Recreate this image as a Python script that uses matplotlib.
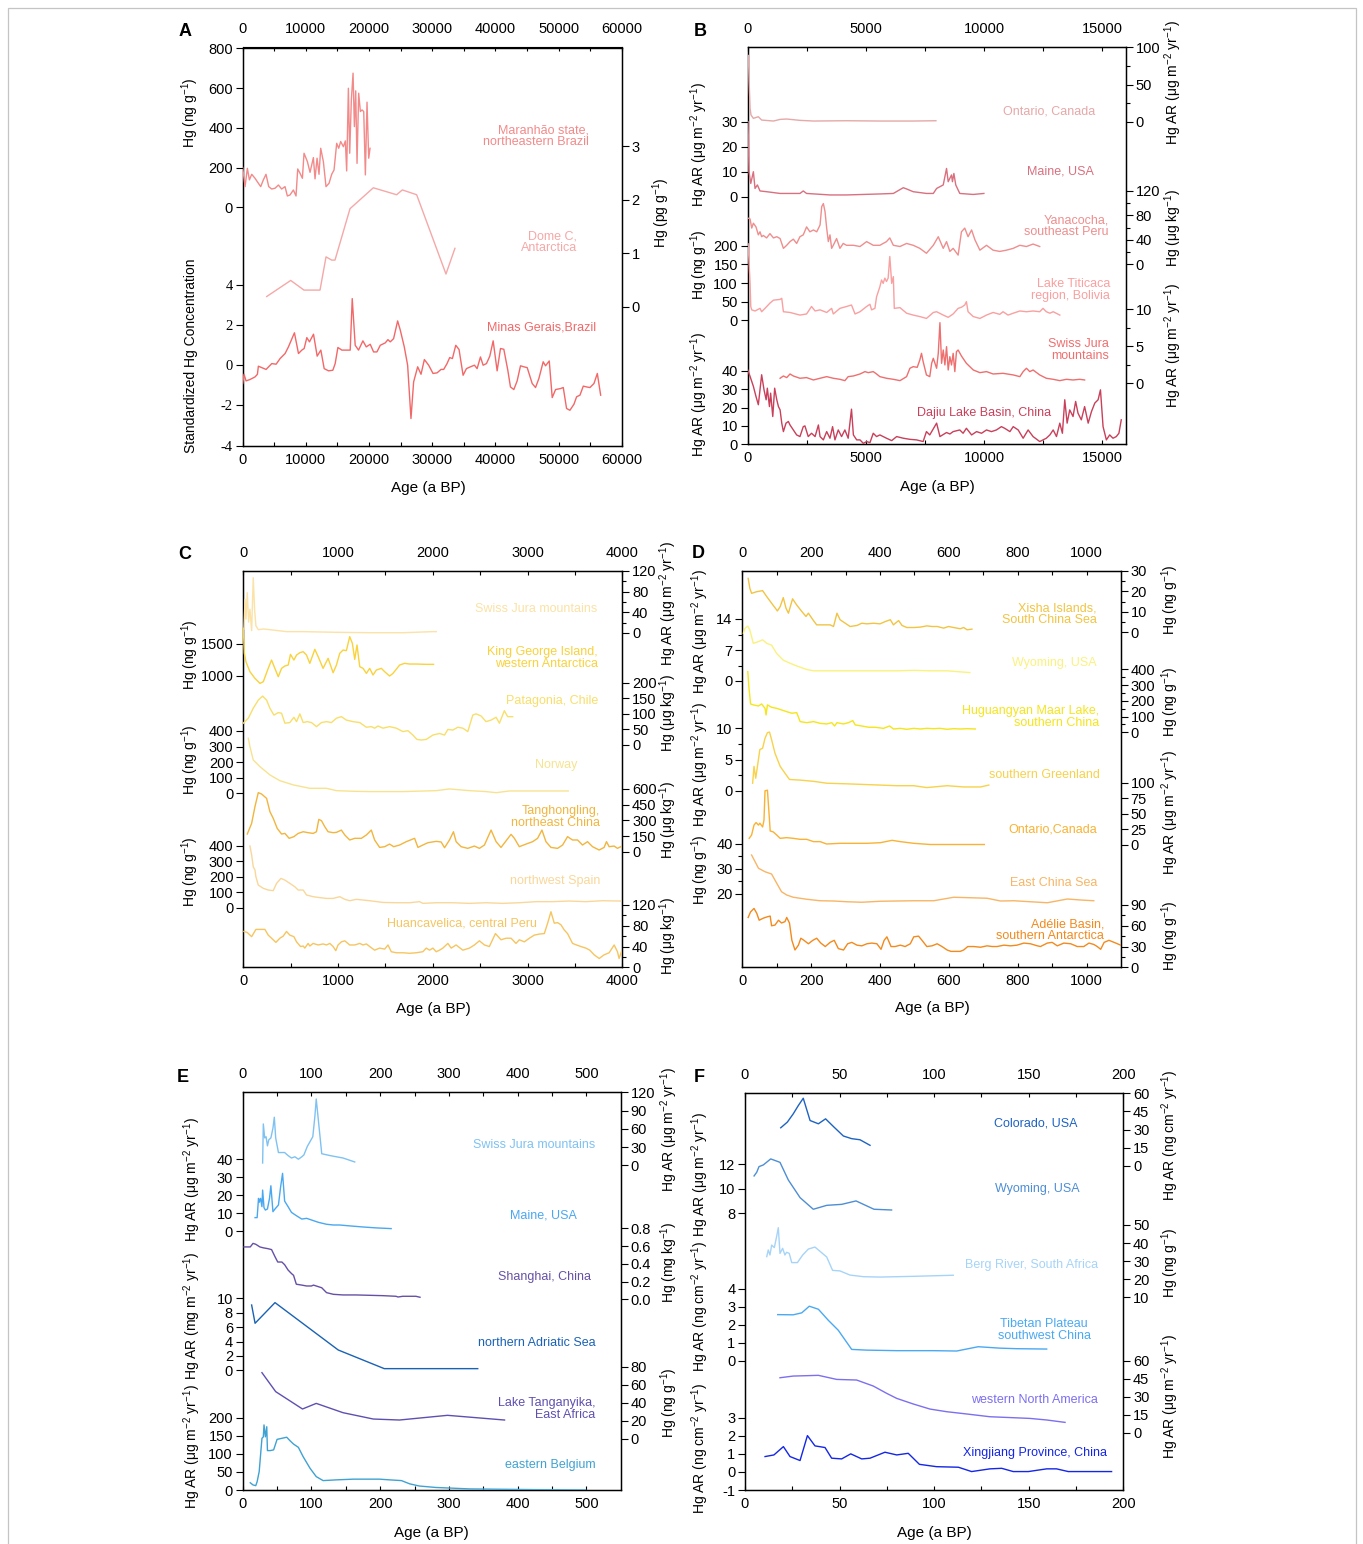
import matplotlib
matplotlib.use("Agg")
import matplotlib.pyplot as plt
from matplotlib.patches import Rectangle
from matplotlib.ticker import FormatStrFormatter

W, H = 1363, 1544

# ---------------- panel A ----------------
maranhao_age = [0, 370, 740, 1060, 1430, 1950, 2480, 2850, 3270, 3690, 4120, 4590, 5120, 5650, 6170,
                6700, 7070, 7490, 8020, 8440, 8710, 9080, 9450, 9710, 10240, 10660, 11190, 11450, 11770,
                12080, 12350, 12770, 13190, 13670, 14090, 14460, 14880, 15200, 15510, 15940, 16250,
                16460, 16730, 16940, 17200, 17470, 17680, 17890, 18100, 18360, 18630, 18890, 19160,
                19420, 19680, 19950, 20160]
maranhao_hg = [200, 104, 196, 138, 166, 146, 121, 104, 138, 166, 104, 92, 96, 112, 92, 104, 57, 62, 87,
               57, 193, 171, 146, 272, 230, 176, 250, 143, 247, 166, 297, 230, 104, 121, 166, 188, 322,
               297, 331, 305, 334, 183, 599, 272, 540, 675, 406, 586, 221, 574, 482, 490, 482, 163, 529,
               247, 297]

domec_age = [3800, 7600, 9700, 12240, 13190, 14090, 14610, 16990, 20680, 24370, 25270, 27540, 32180, 33600]
domec_hg = [0.19, 0.49, 0.31, 0.31, 0.93, 0.87, 0.87, 1.83, 2.22, 2.09, 2.18, 2.09, 0.61, 1.09]

minas_age = [0, 210, 530, 1160, 1960, 2330, 2480, 3700, 4600, 5290,
             5920, 6710, 7240, 8190, 8830, 9360, 9730, 10150, 10570, 11210,
             11790, 12370, 12900, 13590, 14270, 14640, 15070, 15700, 16230, 17020,
             17340, 17810, 18340, 19030, 19560, 20190, 20720, 21250, 21780, 22570,
             22990, 23360, 23890, 24530, 24950, 25580, 26110, 26640, 27060, 27700,
             28230, 28760, 29440, 30130, 30770, 31400, 31820, 32350, 32770, 33200,
             33730, 34250, 34890, 35420, 36050, 36690, 37110, 37640, 38060, 38590,
             39120, 39650, 40280, 40810, 41340, 41970, 42390, 42920, 43450, 43980,
             44510, 45040, 45830, 46360, 46890, 47570, 47940, 48530, 49000, 49530,
             50320, 50750, 51270, 51800, 52440, 52860, 53390, 53920, 54450, 54970,
             55610, 56140, 56670]
minas_z = [-0.91, -0.45, -0.78, -0.71, -0.58, -0.45, -0.05, -0.21, 0.08, 0.05,
           0.33, 0.58, 0.91, 1.61, 0.58, 0.75, 0.83, 1.37, 1.16, 1.54,
           0.45, 0.75, -0.17, -0.28, -0.25, 0.08, 0.88, 0.75, 0.75, 0.75,
           3.31, 0.99, 0.75, 1.21, 0.91, 1.04, 0.66, 0.66, 0.99, 1.11,
           1.27, 1.16, 1.32, 2.20, 1.74, 0.91, 0.0, -2.65, -0.83, -0.08,
           -0.45, 0.28, 0.0, -0.41, -0.38, -0.21, -0.21, 0.08, 0.38, 0.33,
           0.99, 0.78, -0.50, -0.17, -0.08, 0.0, -0.17, 0.41, 0.0, 0.08,
           0.45, 1.21, -0.28, 0.83, 0.79, -0.25, -1.08, -1.21, -0.78, -0.03,
           -0.08, -0.12, -0.91, -1.11, -0.66, 0.17, -0.03, 0.21, -1.61, -1.21,
           -1.16, -1.11, -2.15, -2.24, -1.94, -1.57, -1.49, -1.04, -1.08, -1.11,
           -0.91, -0.41, -1.49]

# ---------------- panel B ----------------
ontario_b_age = [30, 60, 100, 140, 240, 450, 590, 1090, 1370, 1650, 2210, 2780, 4180, 5590, 7000, 7960]
ontario_b_ar = [89, 54, 18, 9, 4.5, 6.7, 2.2, 0.9, 3.1, 3.6, 1.8, 0.9, 1.3, 0.9, 0.9, 1.3]

maine_b_age = [14, 56, 130, 240, 310, 410, 520, 800, 1370, 2210, 2350, 2490, 3480, 4180, 5590, 6160,
               6580, 6720, 7000, 7560, 7850, 7990, 8270, 8410, 8480, 8620, 8660, 8720, 8800, 8970,
               9540, 9990]
maine_b_ar = [30, 10, 5.3, 10, 3.3, 4.7, 2.3, 2, 1.3, 1.3, 2.3, 1.3, 0.7, 0.7, 1.1, 1.3, 3.6, 3.1, 2,
              1.3, 1.3, 3.3, 4.7, 11.3, 6, 8.7, 6, 9.3, 4.7, 1.3, 0.9, 1.3]

yanacocha_age = [30, 100, 170, 240, 350, 450, 520, 590, 660, 800, 940, 1090, 1230, 1370, 1510, 1650,
                 1790, 1930, 2070, 2210, 2350, 2490, 2630, 2780, 2920, 3060, 3130, 3200, 3270, 3340,
                 3410, 3480, 3550, 3620, 3760, 3900, 4040, 4180, 4470, 4750, 5030, 5310, 5590, 5870,
                 6010, 6160, 6440, 6720, 7000, 7280, 7560, 7850, 8060, 8270, 8410, 8550, 8690, 8900,
                 9040, 9180, 9320, 9470, 9610, 9820, 10100, 10380, 10660, 10940, 11230, 11510, 11790,
                 12070, 12350]
yanacocha_hg = [75, 74, 59, 67, 61, 48, 53, 45, 47, 43, 50, 43, 45, 42, 26, 31, 37, 41, 34, 45, 48, 61,
                53, 56, 53, 64, 94, 99, 86, 59, 37, 48, 26, 31, 42, 26, 34, 31, 31, 29, 37, 31, 31, 37,
                43, 31, 29, 34, 31, 26, 18, 31, 45, 26, 37, 21, 26, 15, 53, 59, 45, 56, 40, 23, 31, 23,
                21, 23, 26, 31, 29, 33, 29]

titicaca_age = [20, 100, 130, 170, 310, 520, 590, 730, 940, 1090, 1370, 1440, 1510, 1790, 2210, 2490,
                2700, 2850, 3060, 3340, 3550, 3620, 3900, 4180, 4390, 4540, 4750, 5030, 5170, 5240,
                5380, 5450, 5590, 5660, 5730, 5800, 5870, 5940, 6010, 6090, 6160, 6200, 6440, 6720,
                7000, 7280, 7560, 7850, 7990, 8270, 8480, 8690, 8900, 9040, 9180, 9250, 9320, 9540,
                9820, 10100, 10380, 10660, 10800, 11010, 11230, 11510, 11790, 12070, 12350, 12490,
                12630, 12780, 12920, 13200]
titicaca_hg = [205, 99, 37, 28, 25, 32, 23, 32, 46, 54, 56, 59, 23, 21, 14, 17, 37, 25, 28, 21, 32, 17,
               32, 37, 41, 17, 23, 37, 43, 28, 32, 63, 90, 108, 99, 113, 104, 113, 171, 99, 117, 32,
               34, 19, 14, 10, 5, 21, 23, 14, 8, 17, 32, 35, 41, 50, 23, 10, 5, 14, 21, 16, 23, 14,
               19, 25, 23, 25, 23, 32, 23, 19, 23, 14]

swiss_b_age = [1370, 1510, 1650, 1790, 1930, 2210, 2490, 2780, 3060, 3340, 3620, 3900, 4110, 4250,
               4470, 4750, 4960, 5100, 5310, 5450, 5590, 5870, 6160, 6440, 6720, 6860, 7000, 7170,
               7280, 7350, 7420, 7560, 7700, 7780, 7850, 7990, 8060, 8130, 8200, 8270, 8340, 8410,
               8480, 8550, 8620, 8690, 8760, 8830, 8900, 9040, 9250, 9540, 9820, 10100, 10380, 10800,
               11230, 11510, 11650, 11790, 11930, 12070, 12350, 12630, 12920, 13200, 13480, 13760,
               14040, 14250]
swiss_b_ar = [0.68, 0.99, 0.77, 1.26, 0.99, 0.68, 0.77, 0.45, 0.68, 0.9, 0.68, 0.54, 0.36, 0.9, 0.99,
              1.26, 1.58, 1.44, 1.58, 1.26, 0.9, 0.68, 0.54, 0.36, 0.9, 2.03, 2.25, 2.16, 3.15, 4.05,
              2.93, 1.13, 0.9, 2.7, 3.38, 2.03, 4.05, 8.19, 2.7, 4.5, 2.48, 4.95, 1.8, 3.6, 2.48, 4.05,
              1.58, 4.28, 4.5, 3.69, 2.7, 1.8, 1.44, 1.58, 1.26, 1.35, 1.13, 0.9, 1.58, 2.03, 1.58,
              1.8, 1.13, 0.68, 0.54, 0.36, 0.54, 0.45, 0.54, 0.45]

dajiu_age = [0, 100, 240, 350, 450, 520, 590, 690, 780, 830, 920, 970, 1060, 1140, 1230, 1300, 1370,
             1440, 1510, 1620, 1720, 1790, 1930, 2070, 2210, 2350, 2420, 2560, 2700, 2850, 2990, 3060,
             3200, 3340, 3480, 3590, 3690, 3830, 3970, 4110, 4250, 4390, 4470, 4610, 4750, 4890, 5030,
             5170, 5310, 5450, 5590, 5870, 6090, 6300, 6580, 6860, 7140, 7420, 7560, 7700, 7990, 8130,
             8410, 8550, 8690, 8970, 9110, 9250, 9470, 9680, 9890, 10100, 10310, 10520, 10730, 10870,
             11090, 11230, 11440, 11650, 11860, 12070, 12350, 12630, 12780, 12920, 13060, 13200, 13310,
             13410, 13510, 13620, 13760, 13870, 13970, 14110, 14250, 14400, 14540, 14680, 14820, 14920,
             15030, 15170, 15310, 15450, 15590, 15700, 15800]
dajiu_ar = [40.5, 36.9, 31.5, 26, 21.5, 29.6, 37.8, 29.6, 24.2, 30.5, 20.5, 27.8, 15.1, 30.5, 24.2,
            20.5, 18.7, 11.5, 6.9, 11.5, 12.4, 10.5, 7.8, 5.1, 4.2, 9.6, 10, 4.2, 6, 4.2, 10.5, 4.2,
            2.4, 6.9, 3.3, 9.6, 2.4, 7.8, 4.2, 7.8, 3.3, 19.1, 5.1, 2.4, 2.4, 0.5, 1.5, 0.9, 6, 4.2,
            5.1, 3.3, 2, 4.2, 3.3, 2.7, 2.4, 1.5, 6.9, 5.1, 11.5, 4.2, 6.4, 5.6, 6.9, 7.8, 6, 8.7,
            5.1, 6.9, 6, 7.8, 6.9, 7.8, 9.6, 8.7, 6.9, 9.6, 7.8, 3.3, 7.8, 4.2, 1.5, 3.3, 5.1, 7.8,
            4.2, 11.5, 6, 24.2, 11.5, 18.7, 15.1, 23.3, 16.9, 13.3, 20.5, 11.5, 17.8, 22.4, 24.2,
            29.6, 9.6, 2.4, 5.1, 3.3, 4.2, 6, 13.3]

# ---------------- panel C ----------------
swiss_c_age = [7, 18, 28, 42, 56, 70, 88, 105, 119, 133, 158, 211, 281, 456, 632, 983, 1334, 1685, 2001, 2036]
swiss_c_ar = [7.7, 65, 27, 78, 21, 46, 4.5, 107, 46, 14, 6.4, 7.7, 6.4, 2.6, 2.6, 1.3, 0.5, 0.5, 2.6, 2.6]

kinggeorge_age = [0, 11, 28, 70, 123, 176, 211, 263, 298, 333, 369, 404, 439, 474, 498, 534, 562, 597,
                  632, 667, 702, 755, 790, 842, 895, 948, 983, 1018, 1053, 1088, 1123, 1151, 1176, 1200,
                  1229, 1264, 1299, 1334, 1369, 1404, 1457, 1492, 1544, 1580, 1650, 1702, 1755, 1825,
                  1931, 2008]
kinggeorge_hg = [1747, 1353, 1221, 1063, 958, 879, 905, 1116, 1247, 1116, 984, 1116, 1153, 1168, 1337,
                 1247, 1326, 1363, 1379, 1326, 1195, 1416, 1300, 1116, 1274, 1047, 1168, 1353, 1405,
                 1395, 1616, 1511, 1258, 1484, 1142, 1116, 1037, 1116, 1011, 1089, 1116, 1063, 995,
                 1037, 1168, 1195, 1184, 1184, 1179, 1179]

patagonia_age = [0, 53, 105, 158, 204, 246, 281, 323, 369, 404, 439, 491, 534, 562, 597, 632, 674, 720,
                 772, 825, 878, 930, 983, 1035, 1088, 1158, 1229, 1299, 1351, 1386, 1422, 1474, 1544,
                 1615, 1685, 1737, 1790, 1832, 1878, 1931, 1966, 2001, 2071, 2124, 2159, 2211, 2264,
                 2317, 2369, 2422, 2457, 2510, 2562, 2615, 2668, 2703, 2755, 2790, 2843]
patagonia_hg = [70, 86, 118, 144, 157, 144, 118, 96, 104, 102, 70, 72, 89, 75, 100, 72, 75, 72, 59, 72,
                75, 72, 86, 91, 80, 75, 72, 57, 59, 54, 61, 54, 59, 54, 43, 46, 32, 18, 16, 18, 25, 32,
                37, 32, 50, 48, 57, 54, 43, 96, 100, 93, 75, 80, 89, 70, 110, 91, 91]

norway_age = [53, 70, 105, 176, 281, 386, 527, 702, 878, 983, 1158, 1334, 1685, 2036, 2176, 2387, 2562,
              2668, 2808, 3089, 3429]
norway_hg = [353, 300, 214, 171, 118, 81, 54, 32, 32, 17, 13, 11, 11, 17, 28, 17, 11, 4, 15, 15, 15]

tangh_age = [42, 88, 123, 158, 193, 246, 281, 316, 358, 404, 439, 484, 534, 579, 632, 684, 737, 772,
             797, 825, 860, 895, 948, 983, 1035, 1071, 1123, 1176, 1246, 1299, 1351, 1386, 1439, 1492,
             1544, 1587, 1650, 1720, 1808, 1843, 1895, 1948, 2036, 2088, 2124, 2176, 2218, 2246, 2299,
             2369, 2439, 2492, 2545, 2615, 2668, 2720, 2780, 2826, 2861, 2913, 2984, 3054, 3106, 3152,
             3194, 3247, 3317, 3370, 3422, 3475, 3528, 3580, 3633, 3686, 3756, 3808, 3833, 3861, 3914,
             3949, 3984]
tangh_hg = [169, 271, 431, 565, 552, 510, 383, 319, 223, 169, 175, 128, 144, 175, 191, 182, 175, 191,
            309, 297, 239, 191, 182, 185, 207, 160, 112, 128, 128, 160, 207, 112, 41, 48, 73, 48, 64,
            96, 128, 41, 64, 86, 99, 93, 38, 112, 191, 96, 48, 32, 54, 32, 64, 207, 96, 41, 112, 166,
            128, 48, 73, 96, 128, 207, 96, 41, 32, 64, 144, 112, 112, 64, 96, 48, 16, 41, 96, 48, 54,
            32, 48]

spain_age = [70, 88, 105, 123, 133, 158, 211, 263, 316, 351, 397, 439, 491, 544, 579, 632, 667, 737,
             807, 878, 948, 1018, 1071, 1123, 1193, 1334, 1474, 1615, 1755, 1860, 1895, 2036, 2211,
             2387, 2562, 2738, 2913, 3089, 3264, 3440, 3615, 3791, 3984]
spain_hg = [398, 340, 264, 243, 200, 146, 125, 114, 110, 157, 189, 178, 157, 135, 114, 114, 82, 71, 65,
            60, 60, 71, 54, 45, 54, 45, 34, 32, 32, 39, 28, 32, 32, 28, 32, 28, 32, 39, 39, 43, 39, 45, 43]

huanc_age = [7, 42, 88, 133, 176, 228, 263, 298, 344, 386, 421, 456, 491, 534, 562, 604, 632, 649, 684,
             702, 737, 790, 842, 878, 913, 948, 976, 1000, 1035, 1071, 1123, 1176, 1229, 1264, 1299,
             1334, 1386, 1439, 1492, 1527, 1562, 1615, 1685, 1755, 1825, 1895, 1931, 1966, 2001, 2036,
             2071, 2106, 2159, 2194, 2246, 2317, 2387, 2439, 2492, 2545, 2597, 2661, 2720, 2773, 2826,
             2878, 2913, 2966, 3019, 3071, 3124, 3177, 3212, 3247, 3282, 3317, 3352, 3387, 3422, 3475,
             3517, 3563, 3615, 3657, 3703, 3756, 3808, 3861, 3914, 3949, 3966, 3991]
huanc_hg = [69, 67, 59, 73, 73, 73, 62, 56, 48, 56, 60, 69, 62, 59, 49, 40, 41, 37, 46, 41, 46, 43, 45,
            43, 46, 40, 32, 43, 49, 51, 43, 43, 46, 43, 45, 40, 33, 37, 35, 43, 30, 28, 28, 27, 28, 30,
            37, 33, 37, 30, 33, 37, 46, 37, 43, 33, 37, 43, 51, 43, 40, 65, 53, 56, 56, 46, 53, 49, 56,
            62, 64, 65, 85, 107, 85, 86, 82, 72, 65, 46, 43, 40, 37, 33, 24, 17, 24, 28, 43, 30, 17, 30]

# ---------------- panel D ----------------
xisha_age = [17, 22, 27, 42, 59, 71, 85, 102, 110, 119, 127, 134, 146, 158, 173, 185, 192, 205, 216,
             236, 255, 265, 275, 284, 299, 313, 333, 347, 362, 381, 400, 415, 430, 439, 454, 464, 478,
             498, 517, 536, 551, 566, 585, 599, 614, 633, 643, 653, 667]
xisha_hg = [26.4, 21.5, 19.1, 19.9, 20.4, 17.5, 14.3, 10.5, 12.6, 17, 11.8, 9.4, 16.4, 13.4, 10.2, 7.8,
            9.4, 6.2, 3.7, 3.7, 3.7, 2.9, 9.4, 6.2, 4.5, 2.9, 3.4, 4.5, 4.2, 4.5, 4.2, 5.3, 6.2, 3.7,
            5.8, 3.4, 2.4, 2.4, 2.6, 3.2, 2.9, 2.9, 2.1, 2.9, 2.4, 1.8, 2.4, 1.3, 1.6]

wyoming_d_age = [3, 8, 16, 22, 32, 47, 59, 71, 85, 100, 119, 139, 158, 187, 207, 255, 304, 352, 401,
                 449, 498, 546, 595, 661]
wyoming_d_ar = [10.8, 11.9, 12.4, 11.5, 8.5, 8.9, 9.3, 8.5, 8.1, 6.2, 4.7, 4.0, 3.4, 2.6, 2.3, 2.3, 2.3,
                2.3, 2.3, 2.3, 2.4, 2.3, 2.3, 1.9]

hugu_age = [16, 19, 24, 32, 47, 56, 66, 69, 73, 85, 100, 114, 129, 144, 158, 168, 187, 207, 226, 245,
            260, 268, 275, 294, 308, 321, 328, 347, 367, 386, 410, 428, 439, 459, 478, 498, 517, 536,
            556, 575, 595, 614, 633, 653, 677]
hugu_hg = [385, 290, 180, 174, 167, 180, 152, 110, 174, 159, 152, 142, 131, 121, 125, 68, 61, 68, 57,
           53, 61, 40, 61, 53, 61, 74, 47, 40, 32, 32, 25, 40, 21, 25, 19, 25, 21, 25, 23, 25, 19, 23,
           21, 23, 21]

greenland_age = [30, 34, 39, 44, 51, 59, 66, 73, 79, 85, 95, 110, 124, 137, 168, 207, 245, 304, 352,
                 401, 449, 498, 536, 595, 643, 692, 716]
greenland_ar = [1.2, 3.9, 2.0, 3.9, 6.6, 6.8, 8.4, 9.3, 9.4, 8.2, 6.0, 3.9, 2.8, 1.8, 1.7, 1.5, 1.2,
                1.1, 1.0, 0.9, 0.8, 0.8, 0.5, 0.8, 0.6, 0.6, 0.9]

ontario_d_age = [20, 27, 34, 40, 47, 51, 59, 63, 66, 73, 77, 81, 90, 100, 110, 129, 148, 168, 187, 207,
                 226, 245, 284, 323, 362, 401, 435, 459, 498, 546, 595, 643, 703]
ontario_d_ar = [10.7, 16, 32, 36, 32, 35, 29, 40, 87, 88, 56, 22.5, 21, 16, 10.7, 11.8, 10.7, 9.1, 9.1,
                5.4, 5.4, 1.6, 2.7, 2.7, 2.7, 3.7, 7.5, 5.4, 2.7, 0.8, 0.8, 0.8, 0.8]

ecs_age = [27, 47, 66, 85, 100, 114, 129, 148, 187, 226, 265, 304, 347, 401, 449, 498, 556, 614, 663,
           711, 750, 789, 837, 886, 944, 983, 1021]
ecs_hg = [35.6, 30.3, 28.9, 28, 24.3, 20.9, 19.6, 18.7, 17.9, 17.3, 17.2, 16.9, 16.7, 17.1, 17.2, 17.3,
          17.3, 18.7, 18.5, 18.3, 17.2, 17.3, 16.9, 16.5, 18, 17.6, 17.3]

adelie_age = [17, 24, 34, 42, 49, 61, 73, 81, 85, 95, 105, 114, 124, 129, 137, 144, 153, 163, 170, 179,
              192, 205, 216, 228, 241, 255, 267, 279, 294, 306, 318, 333, 347, 362, 376, 391, 403, 412,
              420, 432, 444, 459, 473, 488, 498, 512, 522, 536, 551, 566, 580, 595, 606, 633, 643, 655,
              672, 692, 711, 726, 740, 760, 779, 798, 818, 837, 857, 866, 886, 900, 915, 934, 954, 973,
              992, 1007, 1021, 1031, 1041, 1051, 1065, 1080, 1099]
adelie_hg = [72, 80, 85, 78, 68, 71, 73, 74, 60, 61, 68, 64, 66, 72, 64, 39, 25, 32, 42, 39, 34, 39, 42,
             35, 30, 36, 39, 27, 25, 34, 36, 32, 31, 34, 35, 34, 26, 39, 44, 30, 30, 32, 30, 34, 44, 45,
             39, 30, 31, 34, 30, 25, 23, 23, 25, 30, 30, 29, 31, 30, 30, 32, 31, 32, 35, 34, 31, 30, 35,
             36, 31, 35, 34, 30, 30, 35, 33, 30, 26, 36, 39, 36, 32]

# ---------------- panel E ----------------
swiss_e_age = [29, 30, 32, 34, 36, 38, 41, 44, 46, 48, 52, 57, 61, 66, 71, 76, 81, 86, 89, 94, 98, 102,
               105, 107, 111, 115, 127, 146, 163]
swiss_e_ar = [3.8, 68, 45, 47, 32, 42, 45, 61, 79, 45, 21, 21, 21, 16, 12, 14, 10, 14, 17, 31, 39, 47,
              80, 109, 64, 19, 16, 12, 5.5]

maine_e_age = [18, 21, 23, 24, 26, 28, 29, 31, 33, 36, 39, 41, 44, 47, 52, 55, 58, 61, 66, 71, 78, 86,
               93, 100, 110, 122, 132, 141, 156, 175, 194, 216]
maine_e_ar = [7.6, 7.6, 18.3, 16.1, 18.3, 13.7, 22.9, 13.1, 11.8, 12.4, 18.3, 25.3, 10.9, 12.4, 14.6,
              24.2, 32.2, 16.8, 13.7, 10.5, 8.7, 6.8, 7.2, 6.3, 5, 3.9, 3.5, 3.5, 3, 2.4, 1.9, 1.5]

shanghai_age = [2, 11, 15, 19, 25, 30, 37, 42, 47, 51, 57, 61, 66, 71, 74, 78, 86, 93, 100, 103, 107,
                115, 122, 132, 146, 165, 185, 204, 223, 226, 233, 252, 258]
shanghai_hg = [0.59, 0.59, 0.63, 0.62, 0.59, 0.58, 0.57, 0.56, 0.48, 0.42, 0.42, 0.39, 0.33, 0.29, 0.27,
               0.17, 0.16, 0.15, 0.15, 0.16, 0.15, 0.13, 0.075, 0.056, 0.049, 0.049, 0.045, 0.041,
               0.034, 0.026, 0.034, 0.034, 0.023]

adriatic_age = [13, 18, 47, 139, 206, 342]
adriatic_ar = [9.07, 6.53, 9.4, 2.82, 0.23, 0.23]

tangan_age = [28, 48, 87, 107, 146, 190, 228, 298, 381]
tangan_hg = [73.4, 52.4, 33.2, 39.4, 29.1, 22.1, 21, 26.2, 21]

belgium_age = [11, 15, 19, 21, 24, 28, 30, 31, 33, 35, 36, 40, 45, 50, 57, 64, 69, 74, 81, 88, 98, 107,
               117, 136, 161, 199, 214, 231, 243, 257, 281, 306, 330, 378, 427, 499]
belgium_ar = [20, 14, 12, 23, 51, 143, 147, 180, 147, 175, 109, 109, 111, 140, 143, 146, 136, 127, 118,
              92, 60, 37, 26, 28, 30, 30, 28, 26, 17, 11, 7, 5, 3, 2, 1, 0]

# ---------------- panel F ----------------
colorado_age = [18.9, 22.4, 25.5, 28.2, 30.8, 34.4, 38.8, 42.6, 46.7, 52, 56.4, 60.8, 66.1]
colorado_ar = [31.5, 36.2, 43, 49.9, 55.9, 37.5, 34.8, 38.9, 32.6, 24.7, 22.5, 21.6, 17]

wyoming_f_age = [4.8, 6.2, 7.4, 9.7, 13.6, 18.5, 22.9, 29.1, 36.1, 43.2, 51.1, 58.7, 68.2, 77.5]
wyoming_f_ar = [11.05, 11.35, 11.81, 11.95, 12.44, 12.16, 10.72, 9.28, 8.33, 8.65, 8.73, 9.01, 8.33, 8.27]

berg_age = [11.5, 12.3, 13.2, 14.1, 15.5, 16.7, 17.6, 18.5, 19.9, 21.1, 22, 23.4, 24.7, 27.7, 30.5,
            33.5, 37, 43.2, 46.3, 50.2, 55.5, 62.6, 71.4, 89, 110.1]
berg_hg = [32.5, 36.2, 33.4, 38.9, 37.5, 43.5, 48.5, 34.3, 37.1, 33.4, 34.9, 34.3, 29.2, 29.2, 33.4,
           36.7, 37.8, 32.3, 24.9, 24.6, 22.3, 21.4, 21.2, 21.6, 22.2]

tibet_age = [17.3, 25.5, 30, 34, 38.8, 44, 49.3, 56.4, 64.3, 80.2, 99.6, 111.9, 123.3, 134.8, 143.6, 159.5]
tibet_ar = [2.57, 2.56, 2.67, 3.04, 2.87, 2.26, 1.70, 0.63, 0.59, 0.56, 0.56, 0.54, 0.78, 0.70, 0.67, 0.65]

wna_age = [18.5, 25.5, 38.8, 48.5, 59, 67.8, 74.9, 80.2, 89, 97.8, 106.6, 117.2, 129.5, 141.8, 150.7,
           159.5, 169.2]
wna_ar = [45.8, 47.2, 47.8, 44.4, 43.9, 38.9, 32.8, 28.6, 23.9, 19.7, 17.5, 15.6, 13.3, 12.5, 11.9,
          10.6, 8.6]

xinj_age = [10.6, 15.3, 20.3, 23.8, 29.1, 33, 37, 42.3, 45.8, 51.1, 55.9, 61.7, 66.1, 74, 80.2, 86.3,
            92.2, 101.3, 112.8, 119.8, 129.5, 135.7, 141.8, 149.8, 159.5, 164.7, 170.9, 177.1, 193.8]
xinj_ar = [0.85, 0.94, 1.40, 0.85, 0.63, 2.01, 1.44, 1.35, 0.76, 0.72, 1.0, 0.72, 0.76, 1.09, 0.94, 1.03,
           0.42, 0.29, 0.26, 0.02, 0.17, 0.2, 0.02, 0.02, 0.17, 0.17, 0.02, 0.02, 0.02]

AR_UG = "Hg AR (μg m$^{-2}$ yr$^{-1}$)"
AR_MG = "Hg AR (mg m$^{-2}$ yr$^{-1}$)"
AR_NG = "Hg AR (ng cm$^{-2}$ yr$^{-1}$)"
HG_NG = "Hg (ng g$^{-1}$)"
HG_UG = "Hg (μg kg$^{-1}$)"
HG_MG = "Hg (mg kg$^{-1}$)"
HG_PG = "Hg (pg g$^{-1}$)"

plt.rcParams['font.family'] = ['Liberation Sans', 'DejaVu Sans']
plt.rcParams['mathtext.fontset'] = 'custom'
plt.rcParams['mathtext.rm'] = 'Liberation Sans'
plt.rcParams['mathtext.it'] = 'Liberation Sans:italic'
plt.rcParams['axes.unicode_minus'] = False

fig = plt.figure(figsize=(W / 100, H / 100), dpi=100)
fig.patches.append(Rectangle((8 / W, -0.01), 1348 / W, 1.01 - 8 / H, transform=fig.transFigure,
                             fill=False, edgecolor='#c4c4c4', lw=0.9))


def rect(box):
    x0, y0, x1, y1 = box
    return [x0 / W, 1 - y1 / H, (x1 - x0) / W, (y1 - y0) / H]


def put(x, y, s, **kw):
    fig.text(x / W, 1 - y / H, s, **kw)


def panel(box, xlim, major, minor):
    ax = fig.add_axes(rect(box))
    ax.set_xlim(xlim)
    ax.set_ylim(0, 1)
    ax.set_yticks([])
    ax.set_xticks(major)
    ax.set_xticks(minor, minor=True)
    ax.tick_params(axis='x', which='both', direction='in', length=3, width=0.8,
                   labelsize=10.5, pad=5)
    for sp in ax.spines.values():
        sp.set_linewidth(1.0)
    # top axis carries its own labels so they can sit a little higher
    top = ax.twiny()
    top.set_xlim(xlim)
    top.set_xticks(major)
    top.set_xticks(minor, minor=True)
    top.tick_params(axis='x', which='both', direction='in', length=3, width=0.8,
                    labelsize=10.5, pad=8)
    return ax


def series(box, xlim, age, vals, color, side, ticks, lo, hi, minor=(), fmt=None, serif=False):
    x0, y0, x1, y1 = box
    ax = fig.add_axes(rect(box))
    ax.patch.set_visible(False)
    for sp in ax.spines.values():
        sp.set_visible(False)
    (v0, p0), (v1, p1) = lo, hi
    k = (v1 - v0) / (p0 - p1)
    ax.set_ylim(v0 - (y1 - p0) * k, v1 + (p1 - y0) * k)
    ax.set_xlim(xlim)
    ax.set_xticks([])
    ax.plot(age, vals, color=color, lw=1.0, solid_joinstyle='round')
    ax.yaxis.set_ticks_position(side)
    ax.set_yticks(ticks)
    if minor:
        ax.set_yticks(minor, minor=True)
    ax.tick_params(axis='y', which='major', direction='out', length=5, width=0.8, pad=2,
                   labelsize=10.5)
    ax.tick_params(axis='y', which='minor', direction='out', length=3, width=0.8)
    if fmt:
        ax.yaxis.set_major_formatter(FormatStrFormatter(fmt))
    if serif:
        ax.tick_params(axis='y', labelfontfamily='Liberation Serif')
    return ax


def ylab(x, y, s):
    put(x, y, s, rotation=90, ha='center', va='center', fontsize=10)


def tag(x, y, s, color, ha='right'):
    put(x, y, s, color=color, ha=ha, va='center', fontsize=9, linespacing=0.95, multialignment=ha)


# ---- A ----
bA = (242.7, 47.5, 621.7, 445.7)
xA = (0, 60000)
panel(bA, xA, range(0, 60001, 10000), range(5000, 60000, 10000))
series(bA, xA, maranhao_age, maranhao_hg, '#F28A8A', 'left', [0, 200, 400, 600, 800], (0, 207.3), (800, 48.3))
series(bA, xA, domec_age, domec_hg, '#F5A8A8', 'right', [0, 1, 2, 3], (0, 306.7), (3, 146))
series(bA, xA, minas_age, minas_z, '#F26868', 'left', [-4, -2, 0, 2, 4], (-4, 445.7), (4, 284.7), serif=True)
ylab(190, 113, HG_NG)
ylab(191, 356, "Standardized Hg Concentration")
ylab(661, 213, HG_PG)
tag(589, 136, "Maranhão state,\nnortheastern Brazil", '#F28A8A')
tag(577, 242, "Dome C,\nAntarctica", '#F5A8A8')
tag(596, 328, "Minas Gerais,Brazil", '#F26868')

# ---- B ----
bB = (747.7, 47.3, 1126, 444.3)
xB = (0, 16000)
panel(bB, xB, range(0, 15001, 5000), range(2500, 16000, 5000))
series(bB, xB, ontario_b_age, ontario_b_ar, '#E6A8A8', 'right', [0, 50, 100], (0, 121.7), (100, 47.3), minor=[25, 75])
series(bB, xB, maine_b_age, maine_b_ar, '#D9707F', 'left', [0, 10, 20, 30], (0, 196.7), (30, 121.7))
series(bB, xB, yanacocha_age, yanacocha_hg, '#EE8E8E', 'right', [0, 40, 80, 120], (0, 264.3), (120, 190.7), minor=[20, 60, 100])
series(bB, xB, titicaca_age, titicaca_hg, '#F9A0A0', 'left', [0, 50, 100, 150, 200], (0, 320.3), (200, 245.7))
series(bB, xB, swiss_b_age, swiss_b_ar, '#EE6F6F', 'right', [0, 5, 10], (0, 383.3), (10, 309.3), minor=[2.5, 7.5])
series(bB, xB, dajiu_age, dajiu_ar, '#C8405A', 'left', [0, 10, 20, 30, 40], (0, 444.3), (40, 370.7))
ylab(699, 145, AR_UG)
ylab(699, 265, HG_NG)
ylab(699, 395, AR_UG)
ylab(1173, 83, AR_UG)
ylab(1173, 228, HG_UG)
ylab(1173, 346, AR_UG)
tag(1095, 112, "Ontario, Canada", '#E6A8A8')
tag(1094, 172, "Maine, USA", '#D9707F')
tag(1109, 226, "Yanacocha,\nsoutheast Peru", '#EE8E8E')
tag(1110, 290, "Lake Titicaca\nregion, Bolivia", '#F9A0A0')
tag(1109, 350, "Swiss Jura\nmountains", '#EE6F6F')
tag(1051, 413, "Dajiu Lake Basin, China", '#C8405A')

# ---- C ----
bC = (243.3, 571, 622.3, 967.3)
xC = (0, 4000)
panel(bC, xC, range(0, 4001, 1000), range(500, 4000, 1000))
series(bC, xC, swiss_c_age, swiss_c_ar, '#FBE2A6', 'right', [0, 40, 80, 120], (0, 630.7), (120, 568.3), minor=[20, 60, 100])
series(bC, xC, kinggeorge_age, kinggeorge_hg, '#F9D23C', 'left', [1000, 1500], (1000, 675.7), (1500, 644))
series(bC, xC, patagonia_age, patagonia_hg, '#F8DF6A', 'right', [0, 50, 100, 150, 200], (0, 745), (200, 682.7))
series(bC, xC, norway_age, norway_hg, '#F7E38F', 'left', [0, 100, 200, 300, 400], (0, 793.3), (400, 731))
series(bC, xC, tangh_age, tangh_hg, '#F2B53E', 'right', [0, 150, 300, 450, 600], (0, 851.7), (600, 789))
series(bC, xC, spain_age, spain_hg, '#F9D79A', 'left', [0, 100, 200, 300, 400], (0, 907.7), (400, 845.7))
series(bC, xC, huanc_age, huanc_hg, '#F6C560', 'right', [0, 40, 80, 120], (0, 967.3), (120, 905), minor=[20, 60, 100])
ylab(190, 655, HG_NG)
ylab(190, 760, HG_NG)
ylab(190, 872, HG_NG)
ylab(668, 604, AR_UG)
ylab(668, 713, HG_UG)
ylab(668, 820, HG_UG)
ylab(668, 936, HG_UG)
tag(597, 609, "Swiss Jura mountains", '#FBE2A6')
tag(598, 658, "King George Island,\nwestern Antarctica", '#F9D23C')
tag(598, 701, "Patagonia, Chile", '#F8DF6A')
tag(577, 765, "Norway", '#F7E38F')
tag(600, 817, "Tanghongling,\nnortheast China", '#F2B53E')
tag(600, 881, "northwest Spain", '#F9D79A')
tag(537, 924, "Huancavelica, central Peru", '#F6C560')

# ---- D ----
bD = (742.3, 571, 1121, 967.3)
xD = (0, 1100)
panel(bD, xD, range(0, 1001, 200), range(100, 1100, 200))
series(bD, xD, xisha_age, xisha_hg, '#F2C443', 'right', [0, 10, 20, 30], (0, 631), (30, 569.3), minor=[5, 15, 25])
series(bD, xD, wyoming_d_age, wyoming_d_ar, '#FAF27E', 'left', [0, 7, 14], (0, 681), (14, 619), minor=[3.5, 10.5])
series(bD, xD, hugu_age, hugu_hg, '#F5E51B', 'right', [0, 100, 200, 300, 400], (0, 732.3), (400, 669.3), minor=[50, 150, 250, 350])
series(bD, xD, greenland_age, greenland_ar, '#F8D24A', 'left', [0, 5, 10], (0, 790.7), (10, 728.3), minor=[2.5, 7.5])
series(bD, xD, ontario_d_age, ontario_d_ar, '#F9B233', 'right', [0, 25, 50, 75, 100], (0, 845), (100, 782.7))
series(bD, xD, ecs_age, ecs_hg, '#F8B566', 'left', [20, 30, 40], (20, 894), (40, 844), minor=[25, 35])
series(bD, xD, adelie_age, adelie_hg, '#F28A1E', 'right', [0, 30, 60, 90], (0, 967.3), (90, 905), minor=[15, 45, 75])
ylab(700, 632, AR_UG)
ylab(700, 765, AR_UG)
ylab(700, 870, HG_NG)
ylab(1170, 600, HG_NG)
ylab(1170, 702, HG_NG)
ylab(1170, 813, AR_UG)
ylab(1170, 936, HG_NG)
tag(1097, 614, "Xisha Islands,\nSouth China Sea", '#F2C443')
tag(1097, 663, "Wyoming, USA", '#FAF27E')
tag(1099, 717, "Huguangyan Maar Lake,\nsouthern China", '#F5E51B')
tag(1100, 775, "southern Greenland", '#F8D24A')
tag(1097, 830, "Ontario,Canada", '#F9B233')
tag(1097, 883, "East China Sea", '#F8B566')
tag(1104, 930, "Adélie Basin,\nsouthern Antarctica", '#F28A1E')

# ---- E ----
bE = (242.7, 1092.3, 620.7, 1490)
xE = (0, 550)
panel(bE, xE, range(0, 501, 100), range(50, 550, 100))
series(bE, xE, swiss_e_age, swiss_e_ar, '#7FC2F2', 'right', [0, 30, 60, 90, 120], (0, 1164), (120, 1090.7))
series(bE, xE, maine_e_age, maine_e_ar, '#4AA8F0', 'left', [0, 10, 20, 30, 40], (0, 1231.3), (40, 1159.3))
series(bE, xE, shanghai_age, shanghai_hg, '#6650A6', 'right', [0, 0.2, 0.4, 0.6, 0.8], (0, 1299.3), (0.8, 1228.3), fmt='%.1f')
series(bE, xE, adriatic_age, adriatic_ar, '#1A62B4', 'left', [0, 2, 4, 6, 8, 10], (0, 1370.3), (10, 1298.3))
series(bE, xE, tangan_age, tangan_hg, '#5E50B0', 'right', [0, 20, 40, 60, 80], (0, 1439), (80, 1366.7))
series(bE, xE, belgium_age, belgium_ar, '#3FA2D2', 'left', [0, 50, 100, 150, 200], (0, 1490), (200, 1417.7))
ylab(192, 1180, AR_UG)
ylab(192, 1316, AR_MG)
ylab(192, 1447, AR_UG)
ylab(669, 1130, AR_UG)
ylab(669, 1262, HG_MG)
ylab(669, 1403, HG_NG)
tag(595, 1145, "Swiss Jura mountains", '#7FC2F2')
tag(577, 1215, "Maine, USA", '#4AA8F0')
tag(591, 1277, "Shanghai, China", '#6650A6')
tag(596, 1343, "northern Adriatic Sea", '#1A62B4')
tag(595, 1409, "Lake Tanganyika,\nEast Africa", '#5E50B0')
tag(596, 1465, "eastern Belgium", '#3FA2D2')

# ---- F ----
bF = (745, 1093.3, 1123.3, 1490)
xF = (0, 200)
panel(bF, xF, range(0, 201, 50), range(25, 200, 50))
series(bF, xF, colorado_age, colorado_ar, '#1D63C2', 'right', [0, 15, 30, 45, 60], (0, 1164), (60, 1091))
series(bF, xF, wyoming_f_age, wyoming_f_ar, '#4E8ED4', 'left', [8, 10, 12], (8, 1213.3), (12, 1164.3))
series(bF, xF, berg_age, berg_hg, '#A6D4F8', 'right', [10, 20, 30, 40, 50], (10, 1297.3), (50, 1225))
series(bF, xF, tibet_age, tibet_ar, '#4AA9F2', 'left', [0, 1, 2, 3, 4], (0, 1360.7), (4, 1289))
series(bF, xF, wna_age, wna_ar, '#7C6FF0', 'right', [0, 15, 30, 45, 60], (0, 1432.7), (60, 1360.7))
series(bF, xF, xinj_age, xinj_ar, '#1426E6', 'left', [-1, 0, 1, 2, 3], (-1, 1490), (3, 1417.7))
ylab(700, 1175, AR_UG)
ylab(700, 1306, AR_NG)
ylab(700, 1448, AR_NG)
ylab(1170, 1135, AR_NG)
ylab(1170, 1263, HG_NG)
ylab(1170, 1397, AR_UG)
tag(1078, 1123, "Colorado, USA", '#1D63C2')
tag(1080, 1189, "Wyoming, USA", '#4E8ED4')
tag(1098, 1265, "Berg River, South Africa", '#A6D4F8')
tag(1044, 1330, "Tibetan Plateau\nsouthwest China", '#4AA9F2', ha='center')
tag(1098, 1400, "western North America", '#7C6FF0')
tag(1107, 1453, "Xingjiang Province, China", '#1426E6')

# panel letters and x labels
for letter, lx, ly in [("A", 185, 31), ("B", 700, 31), ("C", 185, 555), ("D", 698, 554),
                       ("E", 183, 1077), ("F", 699, 1077)]:
    put(lx, ly, letter, fontsize=13, fontweight='bold', ha='center', va='center')
for ax_x, ax_y in [(428, 488), (937, 487), (433, 1009), (932, 1008), (431, 1533), (934, 1533)]:
    put(ax_x, ax_y, "Age (a BP)", fontsize=11, ha='center', va='center')

fig.savefig("out.png", dpi=100)
